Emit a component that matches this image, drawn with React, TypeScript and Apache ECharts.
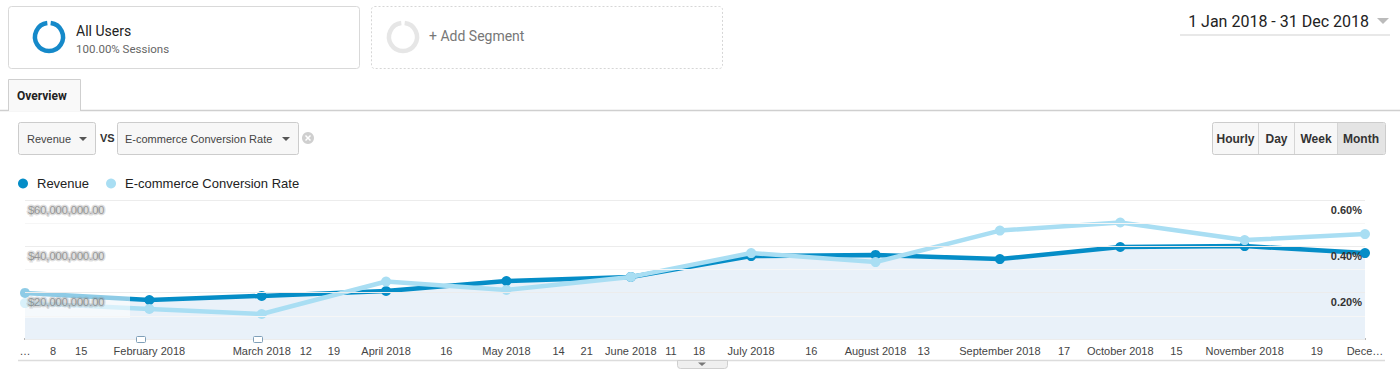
import React, { useEffect, useRef } from "react";
import * as echarts from "echarts";

const monthDates = [
  "2018-01-01", "2018-02-01", "2018-03-01", "2018-04-01", "2018-05-01", "2018-06-01",
  "2018-07-01", "2018-08-01", "2018-09-01", "2018-10-01", "2018-11-01", "2018-12-01",
];
const revenue = [
  19900000, 16800000, 18600000, 20700000, 25000000, 26800000,
  35800000, 36300000, 34500000, 39700000, 40100000, 37100000,
];
const conversionRate = [
  0.155, 0.13, 0.108, 0.248, 0.212, 0.268, 0.371, 0.332, 0.468, 0.503, 0.427, 0.453,
];
const xTickDates = [
  "2018-01-01", "2018-01-08", "2018-01-15", "2018-02-01", "2018-03-01", "2018-03-12",
  "2018-03-19", "2018-04-01", "2018-04-16", "2018-05-01", "2018-05-14", "2018-05-21",
  "2018-06-01", "2018-06-11", "2018-06-18", "2018-07-01", "2018-07-16", "2018-08-01",
  "2018-08-13", "2018-09-01", "2018-09-17", "2018-10-01", "2018-10-15", "2018-11-01",
  "2018-11-19", "2018-12-01",
];
const xTickLabels = [
  "…", "8", "15", "February 2018", "March 2018", "12",
  "19", "April 2018", "16", "May 2018", "14", "21",
  "June 2018", "11", "18", "July 2018", "16", "August 2018",
  "13", "September 2018", "17", "October 2018", "15", "November 2018",
  "19", "Dece…",
];
const annotationDates = ["2018-01-30", "2018-02-28"];

const dayOf = (s: string) => {
  const [y, m, d] = s.split("-").map(Number);
  return Math.round((Date.UTC(y, m - 1, d) - Date.UTC(2018, 0, 1)) / 86400000);
};

const UI_FONT = "Roboto, 'Liberation Sans', sans-serif";
const CHART_FONT = "'Liberation Sans', Arial, sans-serif";

export default function App() {
  const ref = useRef<HTMLDivElement>(null);

  useEffect(() => {
    document.body.style.margin = "0";
    if (!ref.current) return;
    const chart = echarts.init(ref.current, undefined, { renderer: "svg" });

    const tickDays = xTickDates.map(dayOf);
    const labelMap: Record<number, string> = {};
    tickDays.forEach((d, i) => (labelMap[d] = xTickLabels[i]));
    const maxDay = dayOf(monthDates[monthDates.length - 1]);

    const revData = monthDates.map((d, i) => [dayOf(d), revenue[i]]);
    const convData = monthDates.map((d, i) => [dayOf(d), conversionRate[i]]);

    const txt = (x: number, y: number, text: string, extra: any = {}) => ({
      type: "text",
      x,
      y,
      silent: true,
      z: 200,
      style: {
        text,
        fill: "#222",
        fontSize: 12,
        fontFamily: UI_FONT,
        textVerticalAlign: "middle",
        verticalAlign: "middle",
        ...extra,
      },
    });

    const graphics: any[] = [
      // segment box 1
      {
        type: "rect", silent: true,
        shape: { x: 8.5, y: 6.5, width: 351, height: 62, r: 3 },
        style: { fill: "#fff", stroke: "#d9d9d9", lineWidth: 1 },
      },
      {
        type: "arc", silent: true,
        shape: { cx: 49, cy: 37, r: 14, startAngle: -Math.PI / 2 + 0.12, endAngle: Math.PI * 1.5 - 0.12 },
        style: { stroke: "#1589c9", lineWidth: 4.5, fill: null },
      },
      txt(76, 31, "All Users", { fontSize: 14, fill: "#222" }),
      txt(76, 49, "100.00% Sessions", { fontSize: 11.5, fill: "#666" }),
      // segment box 2
      {
        type: "rect", silent: true,
        shape: { x: 371.5, y: 6.5, width: 351, height: 62, r: 3 },
        style: { fill: "#fff", stroke: "#d6d6d6", lineWidth: 1, lineDash: [2, 2] },
      },
      {
        type: "arc", silent: true,
        shape: { cx: 403, cy: 37, r: 14, startAngle: -Math.PI / 2 + 0.12, endAngle: Math.PI * 1.5 - 0.12 },
        style: { stroke: "#e6e6e6", lineWidth: 4.5, fill: null },
      },
      txt(429, 36, "+ Add Segment", { fontSize: 14, fill: "#777" }),
      // date range
      txt(1369, 21, "1 Jan 2018 - 31 Dec 2018", { fontSize: 16, fill: "#222", align: "right", textAlign: "right" }),
      {
        type: "polygon", silent: true,
        shape: { points: [[1377, 18], [1389, 18], [1383, 24]] },
        style: { fill: "#bbb" },
      },
      {
        type: "line", silent: true,
        shape: { x1: 1180, y1: 35, x2: 1390, y2: 35 },
        style: { stroke: "#e8e8e8", lineWidth: 2 },
      },
      // tab line
      {
        type: "line", silent: true,
        shape: { x1: 0, y1: 110.5, x2: 1400, y2: 110.5 },
        style: { stroke: "#cfcfcf", lineWidth: 1.5 },
      },
      {
        type: "rect", silent: true,
        shape: { x: 8.5, y: 79.5, width: 72, height: 32, r: [3, 3, 0, 0] },
        style: { fill: "#f9f9f9", stroke: null },
      },
      {
        type: "polyline", silent: true,
        shape: { points: [[8.5, 111], [8.5, 79.5], [80.5, 79.5], [80.5, 111]] },
        style: { stroke: "#cfcfcf", lineWidth: 1, fill: null },
      },
      txt(17, 96, "Overview", { fontSize: 12, fontWeight: "bold", fill: "#222" }),
      // dropdown 1
      {
        type: "rect", silent: true,
        shape: { x: 18.5, y: 122.5, width: 77, height: 32, r: 2 },
        style: { fill: "#f7f7f7", stroke: "#cccccc", lineWidth: 1 },
      },
      txt(27, 139, "Revenue", { fontSize: 11, fill: "#444", fontFamily: CHART_FONT }),
      {
        type: "polygon", silent: true,
        shape: { points: [[79, 137], [87, 137], [83, 141]] },
        style: { fill: "#555" },
      },
      txt(100, 138, "VS", { fontSize: 11, fontWeight: "bold", fill: "#333", fontFamily: CHART_FONT }),
      // dropdown 2
      {
        type: "rect", silent: true,
        shape: { x: 117.5, y: 122.5, width: 181, height: 32, r: 2 },
        style: { fill: "#f7f7f7", stroke: "#cccccc", lineWidth: 1 },
      },
      txt(125, 139, "E-commerce Conversion Rate", { fontSize: 11, fill: "#444", fontFamily: CHART_FONT }),
      {
        type: "polygon", silent: true,
        shape: { points: [[282, 137], [290, 137], [286, 141]] },
        style: { fill: "#555" },
      },
      {
        type: "circle", silent: true,
        shape: { cx: 308, cy: 138, r: 6 },
        style: { fill: "#cfcfcf" },
      },
      {
        type: "line", silent: true,
        shape: { x1: 305.5, y1: 135.5, x2: 310.5, y2: 140.5 },
        style: { stroke: "#fff", lineWidth: 1.5 },
      },
      {
        type: "line", silent: true,
        shape: { x1: 310.5, y1: 135.5, x2: 305.5, y2: 140.5 },
        style: { stroke: "#fff", lineWidth: 1.5 },
      },
      // time buttons
      {
        type: "rect", silent: true,
        shape: { x: 1212.5, y: 122.5, width: 173, height: 32, r: 2 },
        style: { fill: "#f7f7f7", stroke: "#cccccc", lineWidth: 1 },
      },
      {
        type: "rect", silent: true,
        shape: { x: 1337.5, y: 123, width: 47.5, height: 31, r: [0, 2, 2, 0] },
        style: { fill: "#e4e4e4", stroke: null },
      },
      ...[1258.5, 1294.5, 1337.5].map((x) => ({
        type: "line", silent: true,
        shape: { x1: x, y1: 123, x2: x, y2: 154 },
        style: { stroke: "#d5d5d5", lineWidth: 1 },
      })),
      ...[
        [1235.5, "Hourly"],
        [1276.5, "Day"],
        [1316, "Week"],
        [1361, "Month"],
      ].map(([x, t]) =>
        txt(x as number, 139, t as string, {
          fontSize: 12, fontWeight: "bold", fill: "#333", align: "center", textAlign: "center", fontFamily: CHART_FONT,
        })
      ),
      // bottom line and tab
      {
        type: "line", silent: true,
        shape: { x1: 18, y1: 360.5, x2: 1385, y2: 360.5 },
        style: { stroke: "#dcdcdc", lineWidth: 1.5 },
      },
      {
        type: "rect", silent: true,
        shape: { x: 677.5, y: 360.5, width: 50, height: 8, r: [0, 0, 3, 3] },
        style: { fill: "#efefef", stroke: "#cfcfcf", lineWidth: 1 },
      },
      {
        type: "polygon", silent: true,
        shape: { points: [[698, 362.5], [706, 362.5], [702, 366]] },
        style: { fill: "#777" },
      },
      // blurred region overlay
      {
        type: "rect", silent: true, z: 100,
        shape: { x: 20, y: 194, width: 110, height: 124 },
        style: { fill: "rgba(255,255,255,0.55)" },
      },
    ];

    chart.setOption({
      animation: false,
      textStyle: { fontFamily: CHART_FONT },
      legend: {
        left: 13,
        top: 172,
        icon: "circle",
        itemWidth: 18,
        itemHeight: 10,
        itemGap: 17,
        selectedMode: false,
        textStyle: { fontSize: 13, color: "#222", fontFamily: CHART_FONT },
        data: ["Revenue", "E-commerce Conversion Rate"],
      },
      grid: { left: 25, right: 35, top: 200, bottom: 42, containLabel: false, outerBoundsMode: "none" },
      xAxis: {
        type: "value",
        min: 0,
        max: maxDay,
        axisLine: { show: true, onZero: false, lineStyle: { color: "#555", width: 1.5 } },
        axisTick: { show: false },
        splitLine: { show: false },
        axisLabel: {
          customValues: tickDays,
          formatter: (v: number) => labelMap[Math.round(v)] ?? "",
          color: "#444",
          fontSize: 11,
          margin: 6,
          hideOverlap: false,
        },
      },
      yAxis: [
        {
          type: "value",
          min: 0,
          max: 60000000,
          interval: 10000000,
          position: "left",
          z: 101,
          axisLine: { show: false },
          axisTick: { show: false },
          splitLine: { show: true, lineStyle: { color: ["#ececec", "#f6f6f6"], width: 1 } },
          axisLabel: {
            inside: true,
            margin: 3,
            verticalAlign: "top",
            padding: [4, 0, 0, 0],
            fontSize: 11,
            color: "rgba(90,90,90,0.55)",
            textBorderColor: "rgba(140,140,140,0.28)",
            textBorderWidth: 3,
            formatter: (v: number) => {
              const k = Math.round(v / 10000000);
              return k > 0 && k % 2 === 0
                ? "$" + (k * 10000000).toLocaleString("en-US") + ".00"
                : "";
            },
          },
        },
        {
          type: "value",
          min: 0,
          max: 0.6,
          interval: 0.1,
          position: "right",
          z: 101,
          axisLine: { show: false },
          axisTick: { show: false },
          splitLine: { show: false },
          axisLabel: {
            inside: true,
            margin: 3,
            verticalAlign: "top",
            padding: [4, 0, 0, 0],
            fontSize: 11,
            fontWeight: "bold",
            color: "#333",
            formatter: (v: number) => {
              const k = Math.round(v * 10);
              return k > 0 && k % 2 === 0 ? (k / 10).toFixed(2) + "%" : "";
            },
          },
        },
      ],
      series: [
        {
          name: "Revenue",
          type: "line",
          yAxisIndex: 0,
          data: revData,
          color: "#058dc7",
          symbol: "circle",
          symbolSize: 10,
          lineStyle: { width: 4.5, color: "#058dc7" },
          itemStyle: { color: "#058dc7" },
          areaStyle: { color: "#e9f1f9", opacity: 1 },
          emphasis: { disabled: true },
          z: 2,
        },
        {
          name: "E-commerce Conversion Rate",
          type: "line",
          yAxisIndex: 1,
          data: convData,
          color: "#a9def3",
          symbol: "circle",
          symbolSize: 10,
          lineStyle: { width: 4.5, color: "#a9def3" },
          itemStyle: { color: "#a9def3" },
          emphasis: { disabled: true },
          z: 3,
        },
      ],
      graphic: { elements: graphics },
    });

    // annotation markers
    const markers = annotationDates.map((d) => {
      const [px] = chart.convertToPixel({ gridIndex: 0 } as any, [dayOf(d), 0]) as number[];
      return {
        type: "rect", silent: true, z: 150,
        shape: { x: Math.round(px) - 4.5, y: 336.5, width: 9, height: 6, r: 1 },
        style: { fill: "#fff", stroke: "#7f9fb8", lineWidth: 1 },
      };
    });
    chart.setOption({ graphic: { elements: [...graphics, ...markers] } });

    return () => chart.dispose();
  }, []);

  return <div ref={ref} style={{ width: 1400, height: 381 }} />;
}
